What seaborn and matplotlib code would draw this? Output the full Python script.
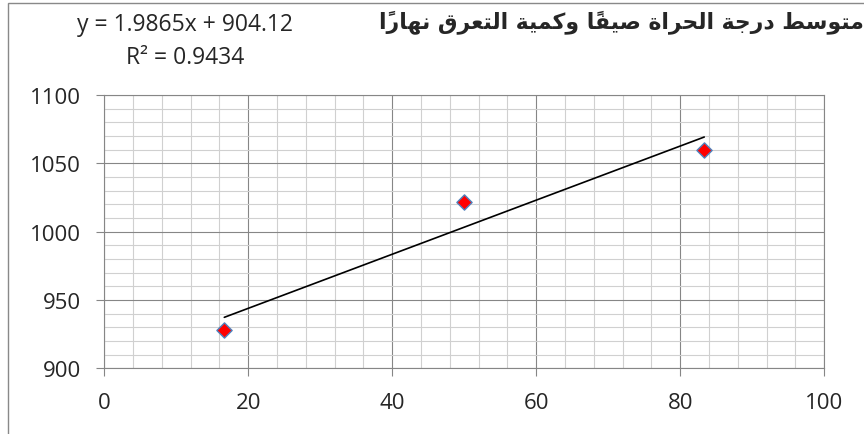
import numpy as np
import pandas as pd
import matplotlib
matplotlib.use('Agg')
import matplotlib.pyplot as plt
import seaborn as sns
from matplotlib.ticker import MultipleLocator
from matplotlib.patches import Rectangle

# data
temp = [16.67, 50, 83.33]
sweat = [928, 1022, 1060]
eq_text = 'y = 1.9865x + 904.12'
r2_text = 'R² = 0.9434'
title_ar = 'متوسط درجة الحراة صيفاً وكمية التعرق نهاراً'

df = pd.DataFrame({'temp': temp, 'sweat': sweat})

# minimal arabic shaping (matplotlib has no complex text layout)
# char: (isolated, final, initial, medial)
FORMS = {
    'ا': (0xFE8D, 0xFE8E, None, None),
    'ت': (0xFE95, 0xFE96, 0xFE97, 0xFE98),
    'ة': (0xFE93, 0xFE94, None, None),
    'ج': (0xFE9D, 0xFE9E, 0xFE9F, 0xFEA0),
    'ح': (0xFEA1, 0xFEA2, 0xFEA3, 0xFEA4),
    'د': (0xFEA9, 0xFEAA, None, None),
    'ر': (0xFEAD, 0xFEAE, None, None),
    'س': (0xFEB1, 0xFEB2, 0xFEB3, 0xFEB4),
    'ص': (0xFEB9, 0xFEBA, 0xFEBB, 0xFEBC),
    'ط': (0xFEC1, 0xFEC2, 0xFEC3, 0xFEC4),
    'ع': (0xFEC9, 0xFECA, 0xFECB, 0xFECC),
    'ف': (0xFED1, 0xFED2, 0xFED3, 0xFED4),
    'ق': (0xFED5, 0xFED6, 0xFED7, 0xFED8),
    'ك': (0xFED9, 0xFEDA, 0xFEDB, 0xFEDC),
    'ل': (0xFEDD, 0xFEDE, 0xFEDF, 0xFEE0),
    'م': (0xFEE1, 0xFEE2, 0xFEE3, 0xFEE4),
    'ن': (0xFEE5, 0xFEE6, 0xFEE7, 0xFEE8),
    'ه': (0xFEE9, 0xFEEA, 0xFEEB, 0xFEEC),
    'و': (0xFEED, 0xFEEE, None, None),
    'ي': (0xFEF1, 0xFEF2, 0xFEF3, 0xFEF4),
}


def is_mark(c):
    return '\u064B' <= c <= '\u0652'


def shape_ar(text):
    chars = list(text)

    def neighbour(i, step):
        j = i + step
        while 0 <= j < len(chars) and is_mark(chars[j]):
            j += step
        return chars[j] if 0 <= j < len(chars) else None

    out = []
    for i, c in enumerate(chars):
        if c not in FORMS:
            out.append(c)
            continue
        iso, fin, ini, med = FORMS[c]
        p = neighbour(i, -1)
        n = neighbour(i, 1)
        join_prev = p in FORMS and FORMS[p][2] is not None
        join_next = ini is not None and n in FORMS
        if join_prev and join_next:
            g = med
        elif join_prev:
            g = fin
        elif join_next:
            g = ini
        else:
            g = iso
        out.append(chr(g))
    clusters = []
    for c in out:
        if is_mark(c) and clusters:
            clusters[-1] += c
        else:
            clusters.append(c)
    return ''.join(reversed(clusters))


sns.set_style('white')
plt.rcParams['font.family'] = ['Open Sans', 'DejaVu Sans']

fig = plt.figure(figsize=(8.64, 4.35), dpi=100)
ax = fig.add_axes([0.1207, 0.151, 0.8333, 0.628])

sns.regplot(data=df, x='temp', y='sweat', scatter=False, ci=None, truncate=True,
            line_kws=dict(color='black', lw=1.2), ax=ax)
sns.scatterplot(data=df, x='temp', y='sweat', marker='D', s=60, color='red',
                edgecolor='#4f81bd', linewidth=1, ax=ax, zorder=3)

ax.set_xlim(0, 100)
ax.set_ylim(900, 1100)
ax.xaxis.set_major_locator(MultipleLocator(20))
ax.xaxis.set_minor_locator(MultipleLocator(4))
ax.yaxis.set_major_locator(MultipleLocator(50))
ax.yaxis.set_minor_locator(MultipleLocator(10))
ax.set_axisbelow(True)
ax.grid(which='minor', color='#d0d0d0', lw=0.8)
ax.grid(which='major', color='#868686', lw=0.8)
for s in ax.spines.values():
    s.set_color('#868686')
    s.set_linewidth(0.8)
ax.tick_params(which='major', length=5.8, width=0.8, color='#868686',
               labelsize=16, pad=11, bottom=True, left=True)
ax.tick_params(which='minor', length=0)
ax.set_xlabel('')
ax.set_ylabel('')

fig.text(185 / 864, 1 - 25 / 435, eq_text, ha='center', va='center', fontsize=16.5)
fig.text(185 / 864, 1 - 58 / 435, r2_text, ha='center', va='center', fontsize=16.5)
fig.text(1.0, 1 - 22 / 435, shape_ar(title_ar), ha='right', va='center',
         fontsize=15.8, fontweight='bold', family=['DejaVu Sans'])

fig.patches.append(Rectangle((8 / 864, -0.05), 1.1, 1.05 - 4 / 435,
                             transform=fig.transFigure, fill=False,
                             edgecolor='#898989', lw=1))

fig.savefig('out.png', dpi=100)
